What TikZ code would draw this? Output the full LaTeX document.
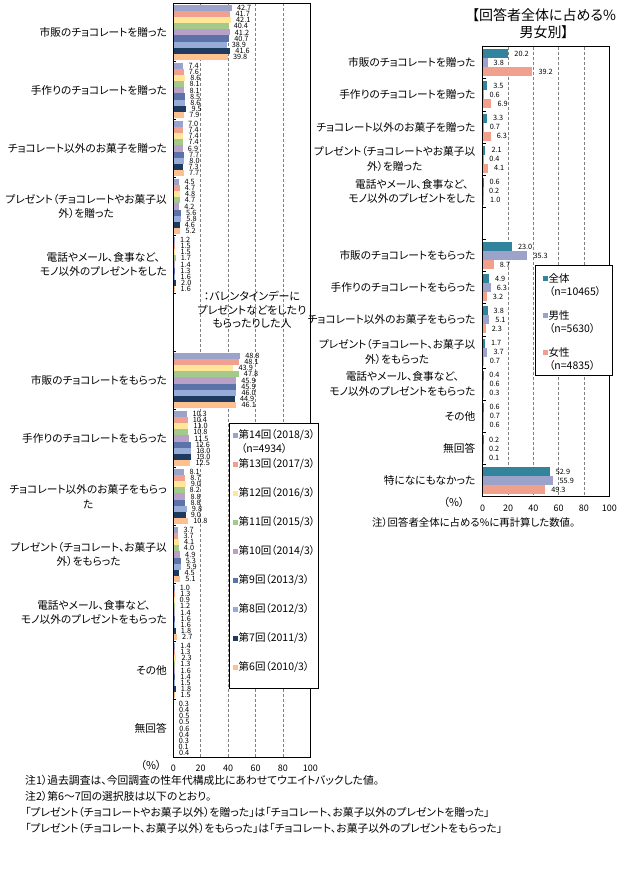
\documentclass[tikz,border=0pt]{standalone}
\usepackage{fontspec}
\setmainfont{Noto Sans CJK JP}[RawFeature=+palt]
\usepackage{tikz}
\usetikzlibrary{positioning}

% survey rounds
\definecolor{s0}{HTML}{9BA3CB}
\definecolor{s1}{HTML}{F0A08C}
\definecolor{s2}{HTML}{FFE699}
\definecolor{s3}{HTML}{A3C98B}
\definecolor{s4}{HTML}{B9A0C6}
\definecolor{s5}{HTML}{5B73A8}
\definecolor{s6}{HTML}{97ADD7}
\definecolor{s7}{HTML}{1F3A5F}
\definecolor{s8}{HTML}{FFC08F}
% all / men / women
\definecolor{r0}{HTML}{31849B}
\definecolor{r1}{HTML}{9BA3CB}
\definecolor{r2}{HTML}{F0A08C}

\tikzset{
  cat/.style={anchor=east, align=center, inner sep=0pt, font=\fontsize{10.7}{14.7}\selectfont},
  val/.style={anchor=west, inner sep=0pt, font=\fontsize{7.3}{7.5}\selectfont},
  axnum/.style={inner sep=0pt, font=\fontsize{9}{10}\selectfont},
  txt/.style={inner sep=0pt, font=\fontsize{10.8}{14}\selectfont},
  legtxt/.style={anchor=west, inner sep=0pt, font=\fontsize{10.5}{12}\selectfont},
  gridline/.style={draw=gray, dash pattern=on 3pt off 2pt, line width=0.6pt},
  frame/.style={draw=black, line width=0.8pt},
  legbox/.style={draw=black, fill=white, line width=0.8pt}
}

\begin{document}
\begin{tikzpicture}[x=1pt,y=-1pt]
  \useasboundingbox (0,0) rectangle (621,880);
  % Sizes
  \pgfmathsetmacro{\lX}{173.3}
  \pgfmathsetmacro{\lS}{1.37}
  \pgfmathsetmacro{\lT}{3.5}
  \pgfmathsetmacro{\lH}{58}
  \pgfmathsetmacro{\lB}{\lT+13*\lH}
  \pgfmathsetmacro{\lW}{6.1}
  \pgfmathsetmacro{\rX}{482.7}
  \pgfmathsetmacro{\rS}{1.266}
  \pgfmathsetmacro{\rT}{46.7}
  \pgfmathsetmacro{\rH}{32.14}
  \pgfmathsetmacro{\rB}{\rT+14*\rH}
  \pgfmathsetmacro{\rW}{9}

  % left chart: grid
  \foreach \g in {20,40,60,80}
    \draw[gridline] ({\lX+\g*\lS},\lT) -- ({\lX+\g*\lS},\lB);

  % left chart: bars
  \foreach \slot/\vals in {
      0/{42.7,41.7,42.1,40.4,41.2,40.7,38.9,41.6,39.8},
      1/{7.4,7.6,8.6,8.1,8.1,8.5,8.6,9.5,7.9},
      2/{7.0,7.4,7.4,7.4,6.9,7.7,8.0,7.3,7.7},
      3/{4.5,4.7,4.8,4.7,4.2,5.6,5.8,4.6,5.2},
      4/{1.2,1.5,1.5,1.7,1.4,1.3,1.6,2.0,1.6},
      6/{48.8,48.1,43.9,47.8,45.9,45.9,46.0,44.9,46.1},
      7/{10.3,10.4,11.0,10.8,11.5,12.6,13.0,13.0,12.5},
      8/{8.1,8.7,9.0,8.2,8.8,8.8,9.8,9.0,10.8},
      9/{3.7,3.7,4.1,4.0,4.9,5.3,5.9,4.5,5.1},
      10/{1.0,1.3,0.9,1.2,1.4,1.6,1.6,1.8,2.7},
      11/{1.4,1.3,2.3,1.3,1.6,1.4,1.5,1.8,1.5},
      12/{0.3,0.4,0.5,0.5,0.6,0.4,0.3,0.1,0.4}}{
    \foreach \v [count=\i from 0] in \vals {
      \pgfmathsetmacro{\by}{\lT+\slot*\lH+1.5+\i*\lW}
      \fill[s\i] (\lX,\by) rectangle ++({\v*\lS},\lW);
      \node[val] (lv\slot-\i) at ({\lX+\v*\lS+5},{\by+\lW/2}) {\v};
    }
  }

  % left chart: frame and ticks
  \draw[frame] (\lX,\lT) rectangle ({\lX+100*\lS},\lB);
  \foreach \k in {0,...,13}
    \draw[frame] (\lX,{\lT+\k*\lH}) -- ++(3,0);
  \foreach \t in {0,20,...,100}
    \node[axnum] (lax\t) at ({\lX+\t*\lS},768) {\t};
  \node[txt] (lpct) at (151,765) {（\%）};

  % left chart: labels
  \foreach \slot/\lab in {
      0/市販のチョコレートを贈った,
      1/手作りのチョコレートを贈った,
      2/チョコレート以外のお菓子を贈った,
      3/プレゼント（チョコレートやお菓子以\\外）を贈った,
      4/電話やメール、食事など、\\モノ以外のプレゼントをした,
      6/市販のチョコレートをもらった,
      7/手作りのチョコレートをもらった,
      8/チョコレート以外のお菓子をもらっ\\た,
      9/プレゼント（チョコレート、お菓子以\\外）をもらった,
      10/電話やメール、食事など、\\モノ以外のプレゼントをもらった,
      11/その他,
      12/無回答}
    \node[cat] (lc\slot) at (167,{\lT+(\slot+0.5)*\lH}) {\lab};

  \node[txt, align=center, font=\fontsize{11}{13.5}\selectfont] (who) at (252,310)
    {：バレンタインデーに\\プレゼントなどをしたり\\もらったりした人};

  % left chart: legend
  \draw[legbox] (229.3,423) rectangle (318.3,688);
  \foreach \n/\yr [count=\i from 0] in {14/2018,13/2017,12/2016,11/2015,10/2014,9/2013,8/2012,7/2011,6/2010} {
    \pgfmathsetmacro{\ey}{435+\i*29}
    \fill[s\i] (232.7,\ey-2.5) rectangle ++(5,5);
    \node[legtxt] (lleg\i) at (238.5,\ey) {第\n 回（\yr/3）};
  }
  \node[legtxt] (llegn) at (241,448.5) {（n=4934）};

  % right chart: title
  \node[txt, align=center, font=\fontsize{14}{17}\selectfont] (title) at (544,23.5)
    {【回答者全体に占める\%\\男女別】};

  % right chart: grid
  \foreach \g in {20,40,60,80}
    \draw[gridline] ({\rX+\g*\rS},\rT) -- ({\rX+\g*\rS},\rB);

  % right chart: bars
  \foreach \slot/\vals in {
      0/{20.2,3.8,39.2},
      1/{3.5,0.6,6.9},
      2/{3.3,0.7,6.3},
      3/{2.1,0.4,4.1},
      4/{0.6,0.2,1.0},
      6/{23.0,35.3,8.7},
      7/{4.9,6.3,3.2},
      8/{3.8,5.1,2.3},
      9/{1.7,3.7,0.7},
      10/{0.4,0.6,0.3},
      11/{0.6,0.7,0.6},
      12/{0.2,0.2,0.1},
      13/{52.9,55.9,49.3}}{
    \foreach \v [count=\i from 0] in \vals {
      \pgfmathsetmacro{\by}{\rT+\slot*\rH+2.57+\i*\rW}
      \fill[r\i] (\rX,\by) rectangle ++({\v*\rS},\rW);
      \node[val] (rv\slot-\i) at ({\rX+\v*\rS+6},{\by+\rW/2}) {\v};
    }
  }

  % right chart: frame and ticks
  \draw[frame] (\rX,\rT) rectangle ({\rX+100*\rS},\rB);
  \foreach \k in {0,...,14}
    \draw[frame] (\rX,{\rT+\k*\rH}) -- ++(3,0);
  \foreach \t in {0,20,...,100}
    \node[axnum] (rax\t) at ({\rX+\t*\rS},508) {\t};
  \node[txt] (rpct) at (454,502) {（\%）};

  % right chart: labels
  \foreach \slot/\lab in {
      0/市販のチョコレートを贈った,
      1/手作りのチョコレートを贈った,
      2/チョコレート以外のお菓子を贈った,
      3/プレゼント（チョコレートやお菓子以\\外）を贈った,
      4/電話やメール、食事など、\\モノ以外のプレゼントをした,
      6/市販のチョコレートをもらった,
      7/手作りのチョコレートをもらった,
      8/チョコレート以外のお菓子をもらった,
      9/プレゼント（チョコレート、お菓子以\\外）をもらった,
      10/電話やメール、食事など、\\モノ以外のプレゼントをもらった,
      11/その他,
      12/無回答,
      13/特になにもなかった}
    \node[cat] (rc\slot) at (475.5,{\rT+(\slot+0.5)*\rH}) {\lab};

  % right chart: legend
  \draw[legbox] (535,265.7) rectangle (612.7,375.7);
  \foreach \lab/\n [count=\i from 0] in {全体/10465,男性/5630,女性/4835} {
    \pgfmathsetmacro{\ey}{278.3+\i*37}
    \fill[r\i] (542.7,\ey-2.5) rectangle ++(5,5);
    \node[legtxt] (rleg\i) at (548.3,\ey) {\lab};
    \node[legtxt] (rlegn\i) at (549,\ey+13.4) {（n=\n）};
  }
  \node[txt, font=\fontsize{10.4}{12}\selectfont] (rnote) at (473.7,522.7)
    {注）回答者全体に占める\%に再計算した数値。};

  % notes
  \node[txt, anchor=west] (note1) at (25,780) {注1）過去調査は、今回調査の性年代構成比にあわせてウエイトバックした値。};
  \node[txt, anchor=west] (note2) at (25,796) {注2）第6～7回の選択肢は以下のとおり。};
  \node[txt, anchor=west] (note3) at (25,812) {「プレゼント（チョコレートやお菓子以外）を贈った」は「チョコレート、お菓子以外のプレゼントを贈った」};
  \node[txt, anchor=west] (note4) at (25,828) {「プレゼント（チョコレート、お菓子以外）をもらった」は「チョコレート、お菓子以外のプレゼントをもらった」};
\end{tikzpicture}
\end{document}
